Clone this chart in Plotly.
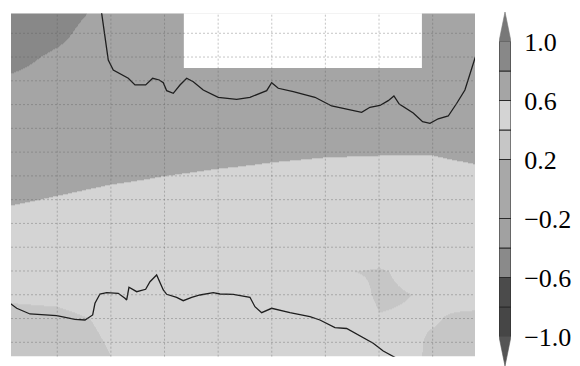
import plotly.graph_objects as go

# ---------------- data ----------------
grid_x = [0, 1, 2, 3, 4, 5, 6, 7, 8, 9]
grid_y = list(range(16))
field_z = [
    [0.33, 0.34, 0.395, 0.47, 0.50, 0.50, 0.50, 0.506, 0.37, 0.35],   # y=0
    [0.34, 0.35, 0.408, 0.47, 0.50, 0.50, 0.50, 0.485, 0.38, 0.35],   # y=1
    [0.36, 0.37, 0.42, 0.47, 0.50, 0.50, 0.50, 0.405, 0.412, 0.34],   # y=2
    [0.42, 0.43, 0.47, 0.50, 0.50, 0.52, 0.49, 0.385, 0.41, 0.507],   # y=3
    [0.48, 0.48, 0.49, 0.50, 0.50, 0.50, 0.412, 0.39, 0.446, 0.50],   # y=4
    [0.50, 0.50, 0.50, 0.50, 0.50, 0.50, 0.50, 0.46, 0.50, 0.50],     # y=5
    [0.55, 0.53, 0.52, 0.52, 0.51, 0.51, 0.50, 0.50, 0.50, 0.50],     # y=6
    [0.62, 0.59, 0.56, 0.55, 0.54, 0.53, 0.52, 0.52, 0.52, 0.53],     # y=7
    [0.66, 0.65, 0.62, 0.598, 0.58, 0.57, 0.56, 0.55, 0.55, 0.57],    # y=8
    [0.68, 0.68, 0.66, 0.66, 0.64, 0.62, 0.61, 0.607, 0.607, 0.637],  # y=9
    [0.72, 0.70, 0.70, 0.70, 0.68, 0.67, 0.66, 0.66, 0.66, 0.68],     # y=10
    [0.76, 0.73, 0.71, 0.70, 0.70, 0.70, 0.70, 0.70, 0.70, 0.70],     # y=11
    [0.78, 0.74, 0.71, 0.70, 0.70, 0.70, 0.70, 0.70, 0.70, 0.70],     # y=12
    [0.86, 0.77, 0.70, 0.70, 0.70, 0.70, 0.70, 0.70, 0.70, 0.70],     # y=13
    [0.92, 0.84, 0.69, 0.70, 0.70, 0.70, 0.70, 0.70, 0.70, 0.70],     # y=14
    [0.95, 0.88, 0.75, 0.72, 0.70, 0.70, 0.70, 0.70, 0.70, 0.70],     # y=15
]

# region with missing data (blank)
gap_x = [3.36, 7.80]
gap_y = [12.54, 15.2]

# black contour lines
upper_line_x = [1.80, 1.828, 1.951, 2.044, 2.324, 2.449, 2.648, 2.779, 2.902, 2.977, 3.040,
                3.163, 3.288, 3.413, 3.536, 3.722, 4.002, 4.345, 4.593, 4.905, 4.998,
                5.121, 5.401, 5.805, 6.117, 6.396, 6.676, 6.831, 7.017, 7.172, 7.278,
                7.377, 7.638, 7.813, 7.950, 8.104, 8.291, 8.447, 8.602, 8.789, 8.83]
upper_line_y = [15.1, 14.84, 12.876, 12.456, 12.106, 11.825, 11.825, 12.106, 12.035, 11.921,
                11.585, 11.475, 11.825, 12.106, 11.963, 11.614, 11.307, 11.223, 11.307,
                11.585, 11.921, 11.686, 11.543, 11.307, 10.941, 10.815, 10.676, 10.886,
                10.962, 11.164, 11.362, 11.025, 10.647, 10.281, 10.213, 10.403, 10.520,
                11.046, 11.614, 12.948, 13.2]
lower_line_x = [0.10, 0.118, 0.243, 0.491, 0.989, 1.330, 1.517, 1.660, 1.703, 1.796, 1.921,
                2.137, 2.262, 2.294, 2.337, 2.481, 2.648, 2.729, 2.853, 2.977, 3.040,
                3.226, 3.349, 3.506, 3.661, 3.909, 4.034, 4.282, 4.593, 4.686, 4.811,
                4.998, 5.339, 5.712, 5.898, 6.178, 6.396, 6.644, 6.892, 7.079, 7.297, 7.39]
lower_line_y = [2.66, 2.641, 2.430, 2.191, 2.119, 1.968, 1.938, 2.149, 2.641, 3.032, 3.087,
                3.061, 2.851, 2.780, 3.314, 3.129, 3.230, 3.549, 3.831, 3.200, 3.019,
                2.893, 2.750, 2.893, 2.990, 3.087, 3.032, 3.019, 2.893, 2.498, 2.245,
                2.430, 2.245, 2.077, 1.938, 1.614, 1.581, 1.252, 0.958, 0.634, 0.369, 0.25]

# colour levels (discrete colour bar)
cb_levels = [-1.0, -0.8, -0.6, -0.4, -0.2, 0.2, 0.4, 0.6, 0.8, 1.0]
cb_colors = ["#464646", "#4b4b4b", "#8a8a8a", "#a1a1a1", "#a8a8a8",
             "#c6c6c6", "#d4d4d4", "#a5a5a5", "#888888"]
cb_under = "#555555"
cb_over = "#787878"
cb_ticks = [-1.0, -0.6, -0.2, 0.2, 0.6, 1.0]

# levels spanned by the mapped field
map_levels = [0.2, 0.4, 0.6, 0.8, 1.0]

# axes
grid_lines_x = [1, 2, 3, 4, 5, 6, 7, 8]
grid_lines_y = list(range(1, 15))
x_range = [0.137, 8.79]
y_range = [0.394, 14.84]


# ---------------- helpers ----------------
def level_color(v):
    if v < cb_levels[0]:
        return cb_under
    if v > cb_levels[-1]:
        return cb_over
    for i in range(len(cb_levels) - 1):
        if cb_levels[i] <= v <= cb_levels[i + 1]:
            return cb_colors[i]
    return cb_over


zmin, zmax = map_levels[0], map_levels[-1]
colorscale = []
for i in range(len(map_levels) - 1):
    lo, hi = map_levels[i], map_levels[i + 1]
    c = level_color((lo + hi) / 2)
    colorscale += [[(lo - zmin) / (zmax - zmin), c], [(hi - zmin) / (zmax - zmin), c]]

fig = go.Figure()

fig.add_trace(go.Heatmap(
    x=grid_x, y=grid_y, z=field_z,
    zmin=zmin, zmax=zmax, zsmooth="best",
    colorscale=colorscale, showscale=False, hoverinfo="skip",
))

fig.add_trace(go.Scatter(
    x=[gap_x[0], gap_x[1], gap_x[1], gap_x[0], gap_x[0]],
    y=[gap_y[0], gap_y[0], gap_y[1], gap_y[1], gap_y[0]],
    mode="lines", fill="toself", fillcolor="white",
    line=dict(width=0, color="white"), hoverinfo="skip", showlegend=False,
))

for lx, ly in [(upper_line_x, upper_line_y), (lower_line_x, lower_line_y)]:
    fig.add_trace(go.Scatter(
        x=lx, y=ly, mode="lines",
        line=dict(color="#1e1e1e", width=1.3),
        hoverinfo="skip", showlegend=False,
    ))

# colour bar built from the level list
bases = cb_levels[:-1]
heights = [cb_levels[i + 1] - cb_levels[i] for i in range(len(cb_levels) - 1)]
fig.add_trace(go.Bar(
    x=[0.5] * len(bases), y=heights, base=bases, width=1,
    marker=dict(color=cb_colors, line=dict(color="#2a2a2a", width=1)),
    xaxis="x2", yaxis="y2", hoverinfo="skip", showlegend=False, cliponaxis=False,
))
ext = 0.2
fig.add_trace(go.Scatter(
    x=[0, 1, 0.5, 0], y=[cb_levels[-1], cb_levels[-1], cb_levels[-1] + ext, cb_levels[-1]],
    mode="lines", fill="toself", fillcolor=cb_over,
    line=dict(width=0.6, color=cb_over), xaxis="x2", yaxis="y2",
    hoverinfo="skip", showlegend=False, cliponaxis=False,
))
fig.add_trace(go.Scatter(
    x=[0, 1, 0.5, 0], y=[cb_levels[0], cb_levels[0], cb_levels[0] - ext, cb_levels[0]],
    mode="lines", fill="toself", fillcolor=cb_under,
    line=dict(width=0.6, color=cb_under), xaxis="x2", yaxis="y2",
    hoverinfo="skip", showlegend=False, cliponaxis=False,
))

shapes = []
grid_style = dict(color="rgba(90,90,90,0.35)", width=1, dash="2px,2px")
for v in grid_lines_x:
    shapes.append(dict(type="line", xref="x", yref="y domain", x0=v, x1=v, y0=0, y1=1,
                       line=grid_style, layer="above"))
for v in grid_lines_y:
    shapes.append(dict(type="line", xref="x domain", yref="y", x0=0, x1=1, y0=v, y1=v,
                       line=grid_style, layer="above"))

fig.update_layout(
    width=580, height=366,
    margin=dict(l=11, r=40, t=12, b=0),
    paper_bgcolor="white", plot_bgcolor="white",
    showlegend=False, barmode="overlay",
    shapes=shapes,
    xaxis=dict(domain=[0, 0.87713], range=x_range, showticklabels=False, showgrid=False,
               zeroline=False, ticks="", showline=False),
    yaxis=dict(domain=[0.02627, 0.99633], range=y_range, showticklabels=False, showgrid=False,
               zeroline=False, ticks="", showline=False),
    xaxis2=dict(domain=[0.9225, 0.9452], range=[0, 1], visible=False, anchor="y2"),
    yaxis2=dict(domain=[0, 1], range=[cb_levels[0] - ext, cb_levels[-1] + ext], anchor="x2",
                side="right", tickvals=cb_ticks,
                ticktext=[f"{v:.1f}".replace("-", "\u2212") for v in cb_ticks],
                showgrid=False, zeroline=False, showline=False,
                ticks="outside", ticklen=7, tickcolor="rgba(0,0,0,0)",
                tickfont=dict(family="'Liberation Serif', 'Times New Roman', serif",
                              size=26, color="black")),
)

fig.write_html("out.html")
